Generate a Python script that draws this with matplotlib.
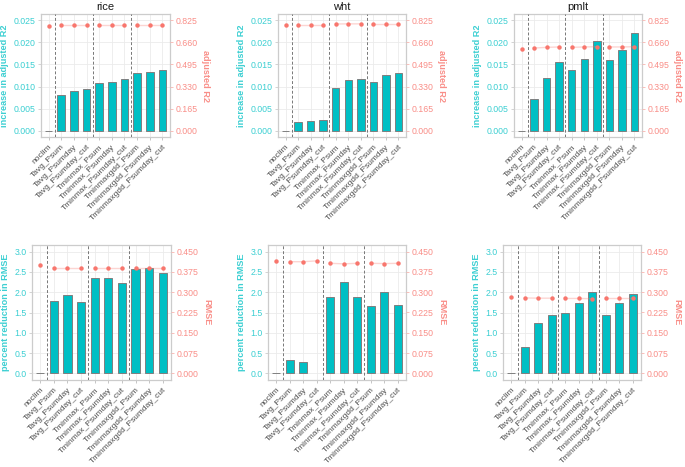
import numpy as np
import matplotlib
matplotlib.use("Agg")
import matplotlib.pyplot as plt
from matplotlib.ticker import FormatStrFormatter

plt.rcParams["font.family"] = ["Liberation Sans", "DejaVu Sans"]

# ---- data ----
categories = ["noclim", "Tavg_Psum", "Tavg_Psumday", "Tavg_Psumday_cut",
              "Tminmax_Psum", "Tminmax_Psumday", "Tminmax_Psumday_cut",
              "Tminmaxgdd_Psum", "Tminmaxgdd_Psumday", "Tminmaxgdd_Psumday_cut"]
crops = ["rice", "wht", "pmlt"]

r2_increase = {
    "rice": [0.0, 0.0081, 0.0090, 0.0095, 0.0109, 0.0111, 0.0117, 0.0131, 0.0134, 0.0138],
    "wht":  [0.0, 0.0020, 0.0022, 0.0024, 0.0096, 0.0114, 0.0116, 0.0110, 0.0127, 0.0130],
    "pmlt": [0.0, 0.0071, 0.0119, 0.0156, 0.0138, 0.0162, 0.0203, 0.0160, 0.0183, 0.0221],
}
adj_r2 = {
    "rice": [0.783, 0.792, 0.792, 0.792, 0.792, 0.792, 0.792, 0.792, 0.792, 0.792],
    "wht":  [0.787, 0.790, 0.790, 0.790, 0.796, 0.797, 0.797, 0.797, 0.797, 0.797],
    "pmlt": [0.610, 0.617, 0.622, 0.625, 0.622, 0.625, 0.627, 0.625, 0.625, 0.627],
}
rmse_reduction = {
    "rice": [0.0, 1.78, 1.92, 1.76, 2.36, 2.36, 2.24, 2.57, 2.60, 2.47],
    "wht":  [0.0, 0.34, 0.29, np.nan, 1.89, 2.25, 1.89, 1.67, 2.01, 1.68],
    "pmlt": [0.0, 0.65, 1.25, 1.44, 1.48, 1.74, 2.01, 1.44, 1.73, 1.96],
}
rmse = {
    "rice": [0.399, 0.391, 0.391, 0.391, 0.388, 0.388, 0.388, 0.388, 0.388, 0.388],
    "wht":  [0.415, 0.413, 0.413, 0.416, 0.407, 0.405, 0.407, 0.407, 0.406, 0.407],
    "pmlt": [0.282, 0.279, 0.278, 0.278, 0.277, 0.277, 0.276, 0.277, 0.277, 0.277],
}
groups = [[1, 2, 3], [4, 5, 6], [7, 8, 9]]

CYAN = "#00BFC4"
CYAN_TXT = "#3CCFD2"
RED = "#F8766D"
RED_TXT = "#F98E88"

W, H = 685, 467
fig = plt.figure(figsize=(W / 100, H / 100), dpi=100)

# panel boxes in pixels (left, top, right, bottom)
top_boxes = [(41, 14, 170, 137), (278, 14, 406, 137), (514, 14, 642, 137)]
bot_boxes = [(32, 245, 171, 380), (268, 245, 406, 380), (503, 245, 641, 380)]


def make_panel(box, bars, points, ymax, step, fmt_l, rmax, rstep, fmt_r,
               ylabel, rlabel, title=None):
    l, t, r, b = box
    ax = fig.add_axes([l / W, 1 - b / H, (r - l) / W, (b - t) / H])
    x = np.arange(len(categories))
    pad = ymax * 0.055
    ax.set_xlim(-0.6, len(categories) - 0.4)
    ax.set_ylim(-pad, ymax + pad)
    ax.set_axisbelow(True)
    ax.grid(True, color="#EBEBEB", lw=0.6)
    ax.bar(x, bars, width=0.6, color=CYAN, edgecolor="#7F7F7F", lw=0.7, zorder=2)
    for xv in (0.5, 3.5, 6.5):
        ax.axvline(xv, color="#777777", ls=(0, (3, 2)), lw=0.7, zorder=3)
    ax.set_yticks(np.arange(0, ymax + step / 2, step))
    ax.yaxis.set_major_formatter(FormatStrFormatter(fmt_l))
    ax.set_xticks(x)
    ax.set_xticklabels(categories, rotation=45, ha="right", va="top",
                       rotation_mode="anchor", fontsize=6, color="#4D4D4D")
    ax.tick_params(axis="y", labelsize=6.3, colors="#CCCCCC", labelcolor=CYAN_TXT,
                   length=2.5, width=0.6, pad=1.5)
    ax.tick_params(axis="x", colors="#BBBBBB", labelcolor="#4D4D4D",
                   length=2.5, width=0.6, pad=2)
    for s in ax.spines.values():
        s.set_color("#CCCCCC")
        s.set_linewidth(0.9)
    ax.set_ylabel(ylabel, color=CYAN_TXT, fontsize=6.6, fontweight="bold", labelpad=3)
    if title:
        ax.set_title(title, fontsize=8, color="#1A1A1A", pad=3)

    ax2 = ax.twinx()
    k = rmax / ymax
    ax2.set_ylim(-pad * k, (ymax + pad) * k)
    pts = np.array(points)
    for g in groups:
        ax2.plot(x[g], pts[g], color=RED, alpha=0.3, lw=1.0, zorder=4)
    ax2.plot(x, pts, "o", color=RED, ms=3.2, mec="none", zorder=5)
    ax2.set_yticks(np.arange(0, rmax + rstep / 2, rstep))
    ax2.yaxis.set_major_formatter(FormatStrFormatter(fmt_r))
    ax2.tick_params(axis="y", labelsize=6.3, colors="#F8B5B0", labelcolor=RED_TXT,
                    length=2.5, width=0.6, pad=1.5)
    for s in ax2.spines.values():
        s.set_visible(False)
    ax2.set_ylabel(rlabel, color=RED_TXT, fontsize=6.6, fontweight="bold",
                   rotation=270, labelpad=9)
    return ax


for i, c in enumerate(crops):
    make_panel(top_boxes[i], r2_increase[c], adj_r2[c], 0.025, 0.005, "%.3f",
               0.825, 0.165, "%.3f", "increase in adjusted R2", "adjusted R2", title=c)
    make_panel(bot_boxes[i], rmse_reduction[c], rmse[c], 3.0, 0.5, "%.1f",
               0.45, 0.075, "%.3f", "percent reduction in RMSE", "RMSE")

fig.savefig("out.png", dpi=100)
